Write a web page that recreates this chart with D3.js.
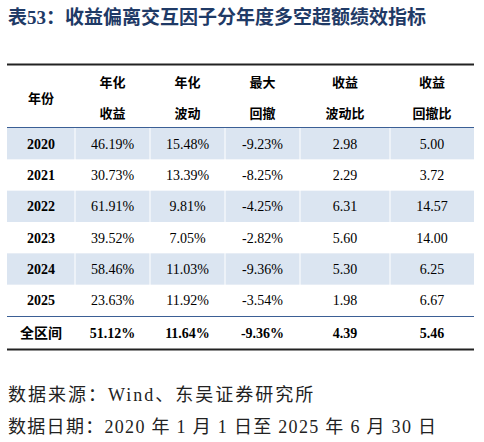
<!DOCTYPE html>
<html><head><meta charset="utf-8">
<script src="https://cdn.jsdelivr.net/npm/d3@7"></script>
<style>body{margin:0;background:#fff}</style></head>
<body><svg id="c" width="484" height="442"></svg>
<script>
const headers1 = ["年化","年化","最大","收益","收益"];
const headers2 = ["收益","波动","回撤","波动比","回撤比"];
const years = ["2020","2021","2022","2023","2024","2025"];
const annRet = ["46.19%","30.73%","61.91%","39.52%","58.46%","23.63%"];
const annVol = ["15.48%","13.39%","9.81%","7.05%","11.03%","11.92%"];
const maxDD = ["-9.23%","-8.25%","-4.25%","-2.82%","-9.36%","-3.54%"];
const retVol = ["2.98","2.29","6.31","5.60","5.30","1.98"];
const retDD = ["5.00","3.72","14.57","14.00","6.25","6.67"];
const total = ["全区间","51.12%","11.64%","-9.36%","4.39","5.46"];

const svg = d3.select("#c");
const font = "'Liberation Serif','Noto Sans CJK SC',serif";
const bounds = [7,75,150,225,300,390,474];
const cx = i => (bounds[i]+bounds[i+1])/2;

svg.append("text").attr("x",8).attr("y",24).attr("fill","#1f3a66")
  .attr("font-family",font).attr("font-weight","bold").attr("font-size",19)
  .text("表53：收益偏离交互因子分年度多空超额绩效指标");

const rowY = d3.scaleBand().domain(d3.range(6)).range([128,316]);
years.forEach((y,i)=>{
  if(i%2===0) svg.append("rect").attr("x",7).attr("y",rowY(i)).attr("width",467).attr("height",rowY.bandwidth()).attr("fill","#dbe5f1");
  const vals=[y,annRet[i],annVol[i],maxDD[i],retVol[i],retDD[i]];
  vals.forEach((v,j)=>svg.append("text").attr("x",cx(j)).attr("y",rowY(i)+rowY.bandwidth()/2+5)
    .attr("text-anchor","middle").attr("font-family",font).attr("font-size",14)
    .attr("font-weight",j===0?"bold":"normal").attr("fill","#000").text(v));
});
bounds.slice(1,-1).forEach(b=>svg.append("line").attr("x1",b).attr("x2",b).attr("y1",66).attr("y2",348).attr("stroke","#fff").attr("stroke-width",1));
svg.append("text").attr("x",cx(0)).attr("y",103).attr("text-anchor","middle").attr("font-family",font).attr("font-weight","bold").attr("font-size",13).text("年份");
headers1.forEach((h,j)=>{
  svg.append("text").attr("x",cx(j+1)).attr("y",87).attr("text-anchor","middle").attr("font-family",font).attr("font-weight","bold").attr("font-size",13).text(h);
  svg.append("text").attr("x",cx(j+1)).attr("y",118).attr("text-anchor","middle").attr("font-family",font).attr("font-weight","bold").attr("font-size",13).text(headers2[j]);
});
total.forEach((v,j)=>svg.append("text").attr("x",cx(j)).attr("y",338).attr("text-anchor","middle")
  .attr("font-family",font).attr("font-weight","bold").attr("font-size",14).text(v));
svg.append("line").attr("x1",7).attr("x2",474).attr("y1",64.5).attr("y2",64.5).attr("stroke","#222").attr("stroke-width",2);
svg.append("line").attr("x1",7).attr("x2",474).attr("y1",127.5).attr("y2",127.5).attr("stroke","#3b5f95").attr("stroke-width",1.2);
svg.append("line").attr("x1",7).attr("x2",474).attr("y1",316.5).attr("y2",316.5).attr("stroke","#3b5f95").attr("stroke-width",1.2);
svg.append("line").attr("x1",7).attr("x2",474).attr("y1",349.5).attr("y2",349.5).attr("stroke","#222").attr("stroke-width",2);
svg.append("text").attr("x",8).attr("y",401).attr("font-family",font).attr("font-size",18).attr("letter-spacing",2).attr("fill","#222").text("数据来源：Wind、东吴证券研究所");
svg.append("text").attr("x",8).attr("y",433).attr("font-family",font).attr("font-size",18).attr("letter-spacing",1.3).attr("fill","#222").text("数据日期：2020 年 1 月 1 日至 2025 年 6 月 30 日");
</script></body></html>
